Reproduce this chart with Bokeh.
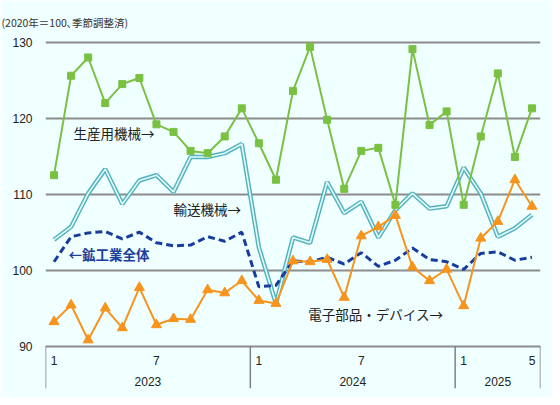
from bokeh.plotting import figure
from bokeh.models import Range1d, FixedTicker, Label
from bokeh.embed import file_html
from bokeh.resources import INLINE
from bokeh.core.properties import value

# ---- data ----
years = ["2023", "2024", "2025"]
months_per_year = [12, 12, 5]
month_numbers = list(range(1, 13)) + list(range(1, 13)) + list(range(1, 6))
shown_months = [1, 7]  # month labels shown on the axis (plus last month)

general_machinery = [112.5, 125.6, 128.0, 122.0, 124.5, 125.3, 119.2, 118.2, 115.7, 115.4, 117.6, 121.3,
                     116.7, 111.9, 123.6, 129.4, 119.8, 110.7, 115.7, 116.1, 108.6, 129.1, 119.1, 120.9,
                     108.6, 117.6, 125.9, 114.9, 121.3]
transport_machinery = [104.0, 105.7, 110.1, 113.3, 108.7, 111.8, 112.5, 110.3, 114.9, 114.9, 115.4, 116.6,
                       103.0, 95.6, 104.3, 103.6, 111.6, 107.5, 109.0, 104.3, 107.9, 110.1, 108.1, 108.4,
                       113.5, 110.1, 104.4, 105.5, 107.3]
all_industry = [101.1, 104.4, 104.9, 105.1, 104.1, 105.0, 103.6, 103.2, 103.3, 104.4, 103.8, 105.0,
                97.8, 98.0, 101.2, 101.1, 101.7, 100.8, 102.3, 100.5, 101.3, 102.9, 101.4, 101.1,
                100.1, 102.2, 102.4, 101.3, 101.7]
electronics = [93.2, 95.4, 90.8, 95.0, 92.4, 97.7, 92.8, 93.6, 93.5, 97.4, 97.0, 98.6,
               96.0, 95.6, 101.2, 101.1, 101.4, 96.4, 104.5, 105.7, 107.2, 100.4, 98.6, 100.1,
               95.3, 104.2, 106.4, 111.9, 108.4]
y_ticks = [90, 100, 110, 120, 130]

n = len(month_numbers)
xs = [i + 0.5 for i in range(n)]

BG = "#F0FFFF"
JP = "Noto Sans CJK JP"
NUM = "Liberation Sans"

y_bottom = 84.41
p = figure(width=552, height=397, output_backend="svg", toolbar_location=None,
           x_range=Range1d(0, n), y_range=Range1d(y_bottom, 130.5),
           x_axis_location=None, min_border_left=45, min_border_right=12,
           min_border_top=38, min_border_bottom=9)
p.background_fill_color = BG
p.border_fill_color = BG
p.outline_line_color = None
p.xgrid.visible = False

p.title.text = "(2020年＝100､季節調整済)"
p.title.text_font = JP
p.title.text_font_size = "10.5px"
p.title.text_font_style = "normal"
p.title.text_color = "#333333"
p.title.align = "left"
p.title.offset = -44
p.title.standoff = 17

ax = p.yaxis[0]
ax.ticker = FixedTicker(ticks=y_ticks)
ax.axis_line_color = None
ax.major_tick_line_color = None
ax.minor_tick_line_color = None
ax.major_label_standoff = 7
ax.major_label_text_font = NUM
ax.major_label_text_font_size = "12px"
ax.major_label_text_color = "#222222"

p.ygrid.ticker = FixedTicker(ticks=y_ticks)
p.ygrid.grid_line_color = "#8c8c8c"
p.ygrid.grid_line_width = 2

# bottom category box: separators at year boundaries
bounds = [0]
for m in months_per_year:
    bounds.append(bounds[-1] + m)
p.segment(x0=bounds, y0=[y_bottom] * len(bounds), x1=bounds, y1=[y_ticks[0]] * len(bounds),
          line_color="#808080", line_width=1.5)

# month labels
mx, mt = [], []
for i, m in enumerate(month_numbers):
    if m in shown_months or i == n - 1:
        mx.append(xs[i]); mt.append(str(m))
p.text(x=mx, y=[y_ticks[0] - 1.9] * len(mx), text=mt, text_font=value(NUM), text_font_size="12px",
       text_align="center", text_baseline="middle", text_color="#222222")
# year labels
yx = [(bounds[k] + bounds[k + 1]) / 2 for k in range(len(years))]
p.text(x=yx, y=[y_ticks[0] - 4.7] * len(yx), text=years, text_font=value(NUM), text_font_size="12px",
       text_align="center", text_baseline="middle", text_color="#222222")

# series
p.line(xs, transport_machinery, line_color="#52b3bf", line_width=4.5)
p.line(xs, transport_machinery, line_color="#e4fbfb", line_width=1.6)

p.line(xs, all_industry, line_color="#173c9c", line_width=3, line_dash="7 4")

p.line(xs, general_machinery, line_color="#7ac143", line_width=2)
p.scatter(xs, general_machinery, marker="square", size=7, fill_color="#7ac143", line_color="#7ac143")

p.line(xs, electronics, line_color="#f7941d", line_width=2)
p.scatter(xs, electronics, marker="triangle", size=10, fill_color="#f7941d", line_color="#f7941d")

# series labels
labels = [
    ("生産用機械→", 1.64, 118.0, "#222222"),
    ("輸送機械→", 7.5, 108.0, "#222222"),
    ("←鉱工業全体", 1.35, 102.1, "#1c3f9a"),
    ("電子部品・デバイス→", 15.4, 94.2, "#222222"),
]
for t, x, y, c in labels:
    p.add_layout(Label(x=x, y=y, text=t, text_font=JP, text_font_size="13.5px",
                       text_baseline="middle", text_color=c,
                       text_font_style="bold" if c != "#222222" else "normal"))

open("out.html", "w").write(file_html(p, INLINE))
